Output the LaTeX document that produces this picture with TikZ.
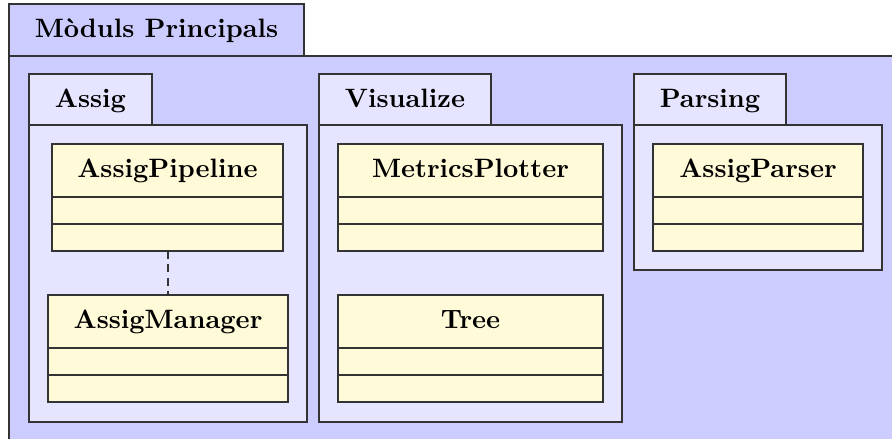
\documentclass[tikz,border=0pt]{standalone}
\definecolor{classfill}{RGB}{255,250,215}
\def\px{0.376pt}
\tikzset{
  x=0.376pt, y=-0.376pt,
  pkgouter/.style={draw=black!80, fill=blue!20, line width=0.5pt, inner sep=0pt, outer sep=0pt},
  pkginner/.style={draw=black!80, fill=blue!10, line width=0.5pt, inner sep=0pt, outer sep=0pt},
  classbox/.style={draw=black!80, fill=classfill, line width=0.5pt, inner sep=0pt, outer sep=0pt},
  classline/.style={draw=black!80, line width=0.5pt},
  umltitle/.style={font=\bfseries, inner sep=0pt},
  depline/.style={draw=black!80, line width=0.5pt, dash pattern=on 3pt off 2pt},
}
% package: name, style, left, top, tab right, tab bottom, body right, body bottom, label
\newcommand\pkgbox[9]{%
  \node[#2, anchor=north west, minimum width={(#5-#3)*\px}, minimum height={(#6-#4)*\px}] (#1-tab) at (#3,#4) {};
  \node[umltitle, anchor=base] (#1-label) at ({(#3+#5)/2},{#4+33}) {#9};
  \node[#2, anchor=north west, minimum width={(#7-#3)*\px}, minimum height={(#8-#6)*\px}] (#1) at (#3,#6) {};
}
% class: name, centre x, top, width, title
\newcommand\umlcls[5]{%
  \node[classbox, anchor=north, minimum width={#4*\px}, minimum height={107*\px}] (#1) at (#2,#3) {};
  \node[umltitle, anchor=base] (#1-name) at (#2,{#3+33}) {#5};
  \draw[classline] ([yshift={-53*\px}]#1.north west) -- ([yshift={-53*\px}]#1.north east);
  \draw[classline] ([yshift={-80*\px}]#1.north west) -- ([yshift={-80*\px}]#1.north east);
}
\begin{document}
\begin{tikzpicture}
  \useasboundingbox (0,0) rectangle (892,438);
  \clip (0,0) rectangle (892,438);
  \fill[white] (0,0) rectangle (892,438);

  % main package
  \pkgbox{main}{pkgouter}{9}{4}{304}{56}{910}{460}{Mòduls Principals}

  % sub-packages
  \pkgbox{assig}{pkginner}{29}{74}{152}{125}{307}{422}{Assig}
  \pkgbox{vis}{pkginner}{319}{74}{491}{125}{622}{422}{Visualize}
  \pkgbox{pars}{pkginner}{634}{74}{786}{125}{882}{270}{Parsing}

  % classes
  \umlcls{pipe}{167.5}{144}{231}{AssigPipeline}
  \umlcls{mgr}{168}{295}{240}{AssigManager}
  \umlcls{plot}{470.5}{144}{265}{MetricsPlotter}
  \umlcls{tree}{470.5}{295}{265}{Tree}
  \umlcls{parser}{758}{144}{210}{AssigParser}

  % dependency
  \draw[depline] (pipe.south -| mgr.north) -- (mgr.north);
\end{tikzpicture}
\end{document}
